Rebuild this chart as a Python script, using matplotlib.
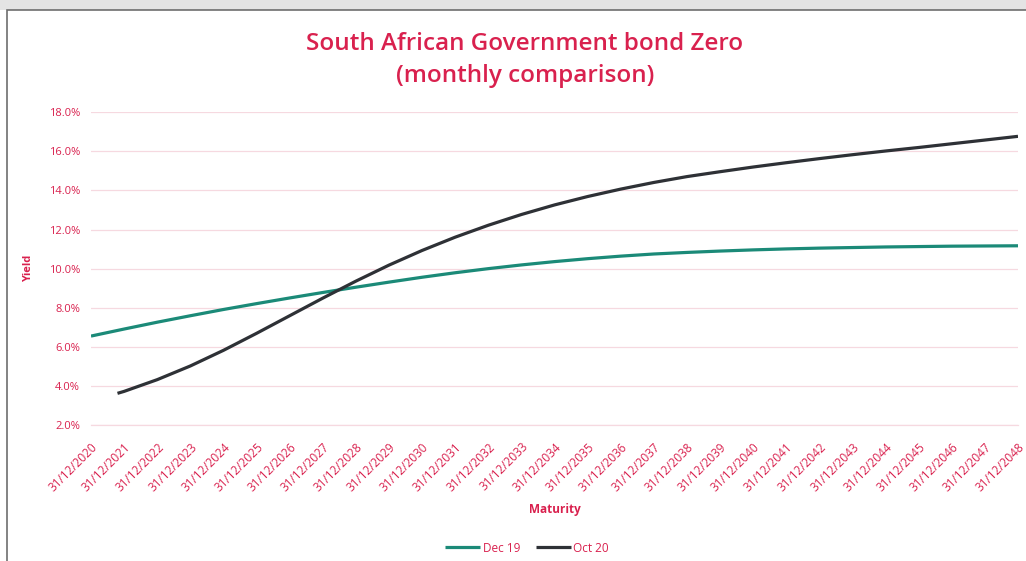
import matplotlib.pyplot as plt
from matplotlib.patches import Rectangle

# Zero-coupon yield curves (%), by maturity year
dec19_years = [2020, 2021, 2022, 2023, 2024, 2025, 2026, 2027, 2028, 2029,
               2030, 2031, 2032, 2033, 2034, 2035, 2036, 2037, 2038, 2039,
               2040, 2041, 2042, 2043, 2044, 2045, 2046, 2047, 2048]
dec19_yield = [6.55, 6.91, 7.26, 7.59, 7.91, 8.21, 8.50, 8.78, 9.05, 9.31,
               9.56, 9.79, 10.00, 10.19, 10.36, 10.51, 10.64, 10.75, 10.83, 10.90,
               10.96, 11.01, 11.05, 11.08, 11.11, 11.13, 11.15, 11.16, 11.17]

oct20_years = [2020.8, 2021, 2022, 2023, 2024, 2025, 2026, 2027, 2028, 2029,
               2030, 2031, 2032, 2033, 2034, 2035, 2036, 2037, 2038, 2039,
               2040, 2041, 2042, 2043, 2044, 2045, 2046, 2047, 2048]
oct20_yield = [3.62, 3.72, 4.32, 5.02, 5.82, 6.69, 7.59, 8.49, 9.36, 10.18,
               10.93, 11.61, 12.22, 12.77, 13.26, 13.69, 14.07, 14.41, 14.71, 14.96,
               15.20, 15.42, 15.63, 15.83, 16.02, 16.20, 16.39, 16.58, 16.77]

tick_years = list(range(2020, 2049))
tick_labels = ["31/12/%d" % y for y in tick_years]
y_ticks = [2, 4, 6, 8, 10, 12, 14, 16, 18]

red = "#D9214E"
teal = "#1B8A78"
dark = "#2E3136"
grid = "#F6D9E0"

fig = plt.figure(figsize=(10.26, 5.61), dpi=100)
W, H = 1026, 561

# light strip at the top and the chart frame
fig.patches.append(Rectangle((0, 1 - 10 / H), 1, 10 / H, transform=fig.transFigure,
                             facecolor="#E4E4E4", edgecolor="none", zorder=-2))
fig.patches.append(Rectangle((7 / W, -0.02), 1.1, 1.02 - 10 / H, transform=fig.transFigure,
                             facecolor="white", edgecolor="#6E6E6E", linewidth=1.2, zorder=-1))

ax = fig.add_axes([91 / W, 1 - 425 / H, (1018 - 91) / W, (425 - 112.3) / H])
ax.set_facecolor("none")
ax.set_zorder(2)

ax.plot(dec19_years, dec19_yield, color=teal, linewidth=2.3, label="Dec 19",
        solid_capstyle="butt", solid_joinstyle="round")
ax.plot(oct20_years, oct20_yield, color=dark, linewidth=2.3, label="Oct 20",
        solid_capstyle="butt", solid_joinstyle="round")

ax.set_xlim(2020, 2048)
ax.set_ylim(2, 18)
ax.set_yticks(y_ticks)
ax.set_yticklabels(["%.1f%%" % v for v in y_ticks], color=red, fontsize=8,
                   family="Open Sans")
ax.set_xticks(tick_years)
ax.set_xticklabels(tick_labels, rotation=45, ha="right", rotation_mode="anchor",
                   color=red, fontsize=8.5, family="Open Sans")
ax.tick_params(axis="y", length=0, pad=8)
ax.tick_params(axis="x", length=0, pad=11)

ax.grid(axis="y", color=grid, linewidth=0.9)
ax.set_axisbelow(True)
for side in ["top", "right", "left"]:
    ax.spines[side].set_visible(False)
ax.spines["bottom"].set_color(grid)
ax.spines["bottom"].set_linewidth(0.9)

fig.text(29 / W, 1 - 268 / H, "Yield", rotation=90, ha="center", va="center",
         color=red, fontsize=8, fontweight="bold", family="Open Sans")
fig.text(555 / W, 1 - 509 / H, "Maturity", ha="center", va="center",
         color=red, fontsize=8.5, fontweight="bold", family="Open Sans")

fig.text(525 / W, 1 - 44 / H, "South African Government bond Zero", ha="center",
         va="center", color=red, fontsize=17.5, fontweight="semibold", family="Open Sans")
fig.text(525 / W, 1 - 76 / H, "(monthly comparison)", ha="center",
         va="center", color=red, fontsize=17.5, fontweight="semibold", family="Open Sans")

leg = fig.legend(loc="center", bbox_to_anchor=(527 / W, 1 - 548 / H), ncol=2,
                 frameon=False, handlelength=3.0, handletextpad=0.2,
                 columnspacing=1.3, prop={"family": "Open Sans", "size": 8.5})
for t in leg.get_texts():
    t.set_color(red)

fig.savefig("out.png", dpi=100)
